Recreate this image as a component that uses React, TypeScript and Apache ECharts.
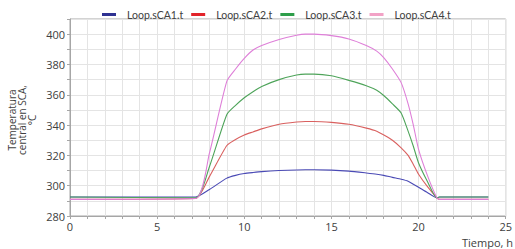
import React, { useEffect, useRef } from "react";
import * as echarts from "echarts";

const seriesNames = ["Loop.sCA1.t", "Loop.sCA2.t", "Loop.sCA3.t", "Loop.sCA4.t"];
const times = [0, 7.2, 8, 9, 9.5, 10, 10.5, 11, 12, 13, 13.5, 14, 15, 16, 17, 17.6, 18, 18.5, 19, 19.4, 19.7, 20, 20.5, 21.05, 21.2, 24];
const sca1 = [292.5, 292.5, 297.5, 305, 306.8, 308, 308.7, 309.3, 310, 310.4, 310.5, 310.5, 310.3, 309.6, 308.4, 307.6, 306.8, 305.5, 304.3, 303, 301, 299, 295.5, 292, 292.5, 292.5];
const sca2 = [291, 291.5, 306, 326.5, 330.5, 333.5, 335.5, 337.5, 340.5, 342, 342.4, 342.4, 341.8, 340.5, 338, 336, 333.5, 330, 325, 320, 314, 307.5, 299.5, 292, 291, 291];
const sca3 = [292.5, 292, 312.5, 347, 353, 358, 362, 365.5, 370, 373, 373.6, 373.6, 372.5, 369.5, 366, 363, 359.5, 354, 348, 336, 326, 315, 303, 292, 292.5, 292.5];
const sca4 = [291, 291.5, 321.5, 369, 377, 384, 389.5, 392.5, 396.5, 399.3, 400, 400, 399, 396.8, 392.5, 388.8, 384.5, 377, 368, 354, 340, 324, 307, 292, 291, 291];
const lineColors = ["#4a4ab5", "#d9605f", "#4ea45a", "#de7fd8"];
const legendColors = ["#2e3192", "#e2232a", "#2e9e4a", "#f2a2c6"];
const yTitle = ["Temperatura", "central en SCA,", "°C"];
const xTitle = "Tiempo, h";

export default function App() {
  const ref = useRef<HTMLDivElement>(null);
  useEffect(() => {
    document.body.style.margin = "0";
    const chart = echarts.init(ref.current!, null, { renderer: "svg" });
    const values = [sca1, sca2, sca3, sca4];
    const font = "Open Sans";
    chart.setOption({
      animation: false,
      backgroundColor: "#ffffff",
      textStyle: { fontFamily: font },
      legend: {
        left: 97,
        top: 4,
        icon: "rect",
        itemWidth: 14,
        itemHeight: 3,
        itemGap: 8,
        textStyle: { fontSize: 10.5, color: "#404040", fontFamily: "Lato", padding: [0, 0, 0, 6] },
        data: seriesNames.map((n, i) => ({ name: n, itemStyle: { color: legendColors[i] } })),
      },
      grid: {
        left: 70,
        right: 7,
        top: 19,
        bottom: 33,
        show: true,
        borderColor: "#a6a6a6",
        borderWidth: 1,
      },
      xAxis: {
        type: "value",
        min: 0,
        max: 25,
        interval: 1,
        axisLine: { lineStyle: { color: "#a6a6a6" } },
        axisTick: { show: true, length: 3, lineStyle: { color: "#a6a6a6" } },
        axisLabel: {
          color: "#404040",
          fontSize: 11,
          margin: 5,
          fontFamily: font,
          formatter: (v: number) => (v % 5 === 0 ? String(v) : ""),
        },
        splitLine: { lineStyle: { color: "#e4e4e4" } },
      },
      yAxis: {
        type: "value",
        min: 280,
        max: 410,
        interval: 10,
        axisLine: { show: true, lineStyle: { color: "#a6a6a6" } },
        axisTick: { show: true, length: 3, lineStyle: { color: "#a6a6a6" } },
        axisLabel: {
          color: "#404040",
          fontSize: 11,
          margin: 5,
          fontFamily: font,
          formatter: (v: number) => (v % 20 === 0 ? String(v) : ""),
        },
        splitLine: { lineStyle: { color: "#e4e4e4" } },
      },
      series: seriesNames.map((n, i) => ({
        name: n,
        type: "line",
        symbol: "none",
        smooth: 0.2,
        color: lineColors[i],
        lineStyle: { width: 1.1, color: lineColors[i] },
        data: times.map((t, j) => [t, values[i][j]]),
      })),
      graphic: [
        {
          type: "text",
          x: 22,
          y: 120,
          rotation: Math.PI / 2,
          style: {
            text: yTitle.join("\n"),
            fontSize: 10,
            lineHeight: 10,
            fontFamily: font,
            fill: "#404040",
            align: "center",
            verticalAlign: "middle",
          },
        },
        {
          type: "text",
          x: 513,
          y: 242,
          style: {
            text: xTitle,
            fontSize: 11,
            fontFamily: font,
            fill: "#404040",
            align: "right",
            verticalAlign: "middle",
          },
        },
      ],
    });
    return () => chart.dispose();
  }, []);
  return <div ref={ref} style={{ width: 515, height: 249 }} />;
}
